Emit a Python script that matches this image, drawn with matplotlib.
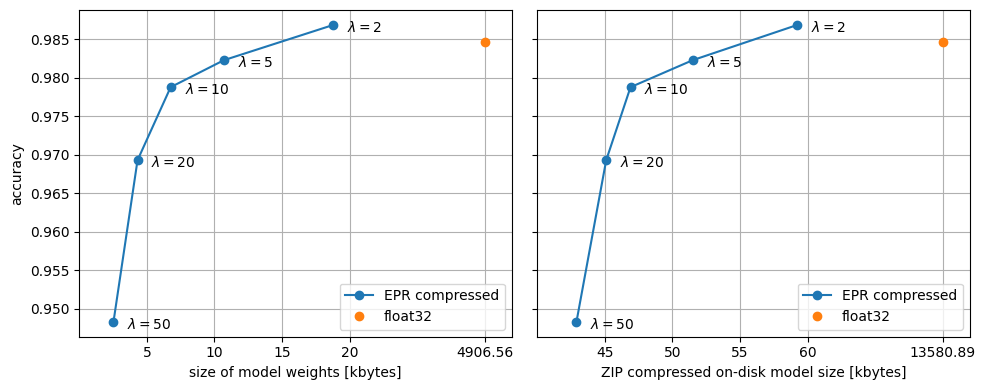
import numpy as np
import matplotlib
matplotlib.use('Agg')
import matplotlib.pyplot as plt

# EPR compressed models for different lambda
lambdas = [50, 20, 10, 5, 2]
accuracy = [0.94831, 0.96929, 0.97877, 0.98227, 0.98682]
weight_kb = [2.53, 4.31, 6.76, 10.7, 18.75]
zip_kb = [42.9, 45.1, 46.9, 51.5, 59.2]

# float32 baseline
float_acc = 0.98461
float_weight_kb = 4906.56
float_zip_kb = 13580.89

# where the float32 point is drawn on the (broken) x axis
float_weight_pos = 30
float_zip_pos = 70

fig, axes = plt.subplots(1, 2, figsize=(9.85, 3.9), dpi=100, sharey=True)

panels = [
    (axes[0], weight_kb, float_weight_pos, float_weight_kb, [5, 10, 15, 20], (0, 32),
     'size of model weights [kbytes]'),
    (axes[1], zip_kb, float_zip_pos, float_zip_kb, [45, 50, 55, 60], (40, 72),
     'ZIP compressed on-disk model size [kbytes]'),
]

for ax, xs, fpos, fval, ticks, xlim, xlabel in panels:
    ax.plot(xs, accuracy, 'o-', label='EPR compressed')
    ax.plot([fpos], [float_acc], 'o', label='float32')
    for x, y, lam in zip(xs, accuracy, lambdas):
        ax.annotate(rf'$\lambda = {lam}$', (x, y), xytext=(10, -5), textcoords='offset points')
    ax.set_xticks(ticks + [fpos])
    ax.set_xticklabels([str(t) for t in ticks] + [f'{fval:.2f}'])
    ax.set_xlim(*xlim)
    ax.set_xlabel(xlabel)
    ax.grid(True)
    ax.legend(loc='lower right')

axes[0].set_ylabel('accuracy')
plt.subplots_adjust(left=0.0805, right=0.9845, top=0.9736, bottom=0.1367, wspace=0.059)
plt.savefig('out.png')
